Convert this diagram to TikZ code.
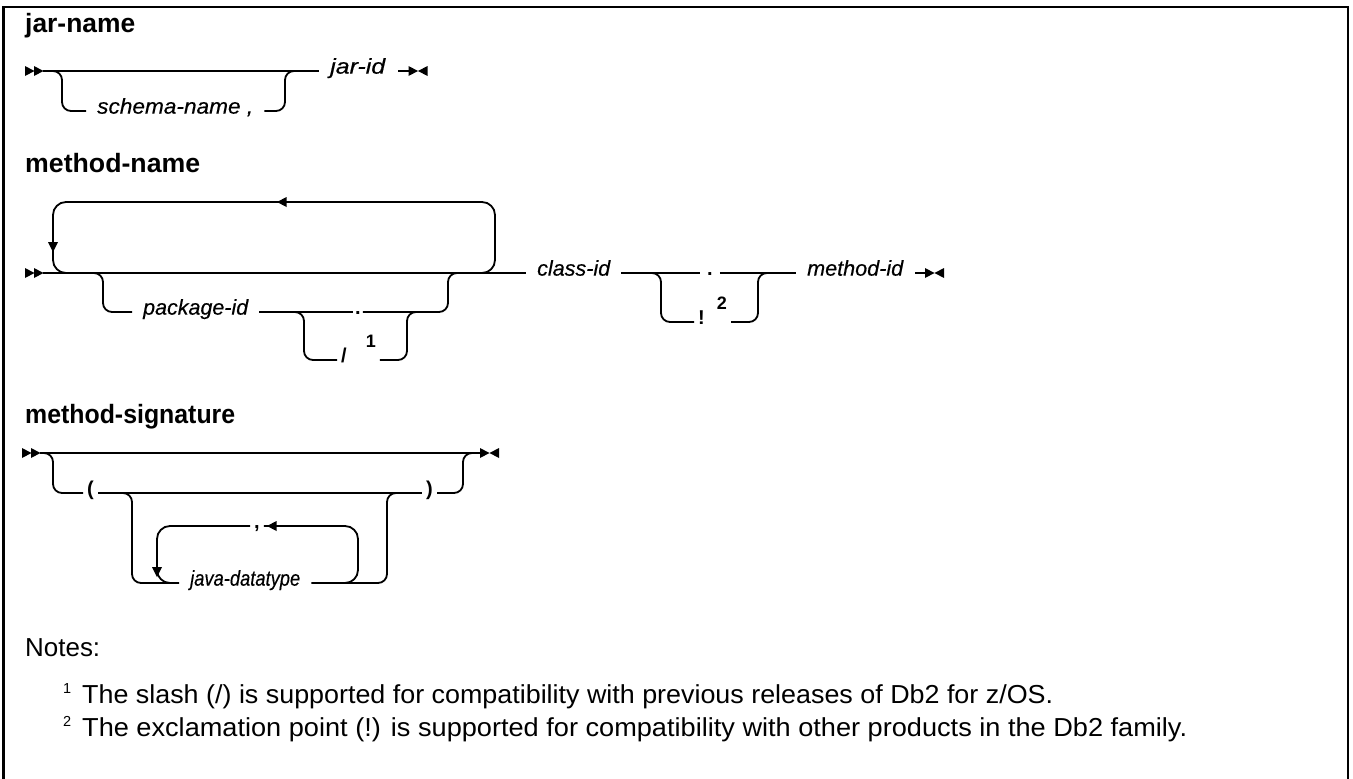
\documentclass[tikz,border=0pt]{standalone}
\usepackage{fontspec}
\setmainfont{Liberation Sans}
\newfontface\labface{Liberation Sans Italic}[FakeBold=0.35]
\usepackage{graphicx}
\newcommand\labf{\fontsize{21.5pt}{24pt}\labface}
\newcommand\ttlf{\fontsize{26.5pt}{30pt}\selectfont\bfseries}
\newcommand\punf{\fontsize{20pt}{24pt}\selectfont\bfseries}
\newcommand\supf{\fontsize{18pt}{20pt}\selectfont\bfseries}
\newcommand\notef{\fontsize{26pt}{30pt}\selectfont}
\newcommand\nsupf{\fontsize{14.5pt}{16pt}\selectfont}
\newcommand\fitw[2]{\resizebox{#1}{\height}{#2}}
\newcommand\rtri[2]{\fill (#1,#2-5) -- (#1+9.5,#2) -- (#1,#2+5) -- cycle;}
\newcommand\ltri[2]{\fill (#1,#2) -- (#1+9.5,#2-5) -- (#1+9.5,#2+5) -- cycle;}
\newcommand\dtri[2]{\fill (#1-5,#2) -- (#1+5,#2) -- (#1,#2+10) -- cycle;}
\begin{document}
\begin{tikzpicture}[x=1pt,y=-1pt,
  railline/.style={line width=1.8pt, rounded corners=9pt},
  loopline/.style={line width=1.8pt, rounded corners=13pt},
  lab/.style={inner ysep=0pt, inner xsep=11pt, anchor=mid west, font=\labf},
  pun/.style={inner ysep=0pt, inner xsep=4pt, anchor=mid west, font=\punf},
  ttl/.style={inner sep=0pt, anchor=base west, font=\ttlf},
  note/.style={inner sep=0pt, anchor=base west, font=\notef}]
\useasboundingbox (0,0) rectangle (1353,779);
% frame
\draw[line width=2.5pt] (3.5,779) -- (3.5,7) -- (1348,7) -- (1348,779);

% ---------------- jar-name
\node[ttl] (t1) at (25,32) {\fitw{110pt}{jar-name}};
\rtri{25}{71}\rtri{34}{71}
\coordinate (s1) at (43,71);
\node[lab] (jarid) at (319,71) {\fitw{55pt}{jar-id}};
\node[lab] (schema) at (86,111) {\fitw{156pt}{schema-name ,}};
\draw[railline] (s1) -- (jarid.mid west);
\draw[railline] (50,71) -| (62,111) -- (schema.mid west);
\draw[railline] (schema.mid east) -| (285,71) -- (295,71);
\draw[railline] ([xshift=2pt]jarid.mid east) -- ++(11,0) coordinate (e1);
\rtri{408.5}{71}\ltri{418}{71}

% ---------------- method-name
\node[ttl] (t2) at (25,172) {\fitw{175pt}{method-name}};
\rtri{25}{273}\rtri{34}{273}
\coordinate (s2) at (43,273);
\node[lab] (classid) at (526,273) {\fitw{73pt}{class-id}};
\draw[railline] (s2) -- (classid.mid west);
% repeat loop
\draw[loopline] (470,273) -| (495,202) -| (53,273) -- (75,273);
\ltri{277}{202}
\dtri{53}{242}
% package branch
\node[lab] (pkg) at (132,312) {\fitw{105pt}{package-id}};
\node[pun, anchor=mid, inner xsep=2pt] (dot1) at (358,312) {.};
\draw[railline] (92,273) -| (103,312) -- (pkg.mid west);
\draw[railline] (pkg.mid east) -- (dot1.mid west);
\draw[railline] (dot1.mid east) -| (448,273) -- (458,273);
\node[pun] (slash) at (337,360) {/\hspace{19pt}\raisebox{15pt}{\supf 1}};
\draw[railline] (295,312) -| (304,360) -- (slash.mid west);
\draw[railline] (slash.mid east) -| (407,312) -- (417,312);
% separator
\node[pun, anchor=mid, inner xsep=7pt] (dot2) at (710,273) {.};
\node[lab] (methodid) at (796,273) {\fitw{96pt}{method-id}};
\draw[railline] (classid.mid east) -- (dot2.mid west);
\draw[railline] (dot2.mid east) -- (methodid.mid west);
\node[pun] (excl) at (694,322) {!\hspace{12pt}\raisebox{15pt}{\supf 2}};
\draw[railline] (650,273) -| (661,322) -- (excl.mid west);
\draw[railline] (excl.mid east) -| (758,273) -- (768,273);
\draw[railline] ([xshift=1pt]methodid.mid east) -- ++(10,0) coordinate (e2);
\rtri{925}{273}\ltri{934.5}{273}

% ---------------- method-signature
\node[ttl] (t3) at (25,423) {\fitw{210pt}{method-signature}};
\rtri{22}{453}\rtri{31}{453}
\coordinate (s3) at (40,453);
\coordinate (e3) at (480,453);
\draw[railline] (s3) -- (e3);
\rtri{480}{453}\ltri{489.5}{453}
\node[pun] (lp) at (83,493) {(};
\node[pun] (rp) at (422,493) {)};
\draw[railline] (42,453) -| (53,493) -- (lp.mid west);
\draw[railline] (lp.mid east) -- (rp.mid west);
\draw[railline] (rp.mid east) -| (463,453) -- (473,453);
\node[lab] (jdt) at (179,583) {\fitw{110pt}{java-datatype}};
\draw[railline] (122,493) -| (132,583) -- (jdt.mid west);
\draw[railline] (jdt.mid east) -| (387,493) -- (397,493);
\node[pun, anchor=mid] (comma) at (257,526) {,};
\draw[loopline] (340,583) -| (358,526) -- (comma.mid east);
\draw[loopline] (comma.mid west) -| (157,583) -- (172,583);
\ltri{267}{526}
\dtri{157}{567}

% ---------------- notes
\node[note] (notes) at (25,656) {\fitw{75pt}{Notes:}};
\node[note, font=\nsupf] (f1) at (63,693) {1};
\node[note] (n1) at (82,703) {\fitw{971pt}{The slash (/) is supported for compatibility with previous releases of Db2 for z/OS.}};
\node[note, font=\nsupf] (f2) at (63,726) {2};
\node[note] (n2) at (82,736) {\fitw{1105pt}{The exclamation point (!) is supported for compatibility with other products in the Db2 family.}};
\end{tikzpicture}
\end{document}
